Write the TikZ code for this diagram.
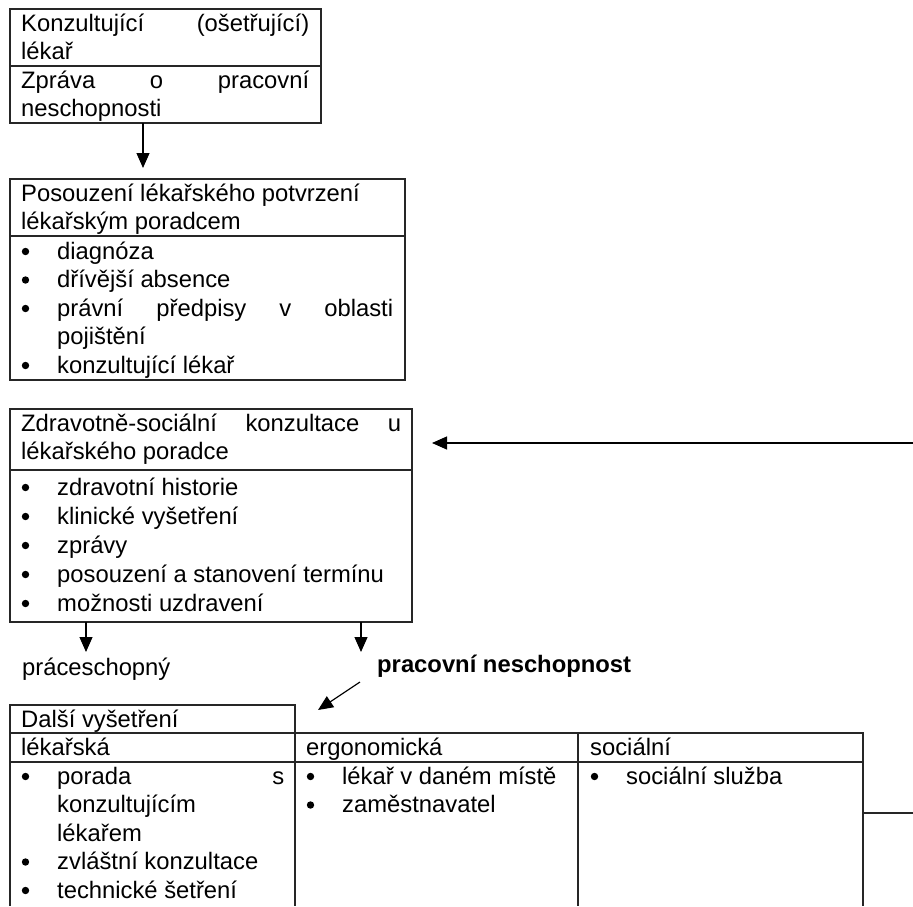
\documentclass[tikz,border=0pt]{standalone}
\usepackage{fontspec}
\setmainfont{Liberation Sans}
\usetikzlibrary{arrows.meta,calc}
\newcommand\fs{\fontsize{23.8pt}{28.5pt}\selectfont}
\newcommand\jb[2]{\makebox[#1][s]{#2}}
\newcommand\bl{\hspace*{36pt}}
\newcommand\ind{\hspace*{36pt}}
\newcommand\dotat[1]{\fill[black] ($(#1.base west)+(4.5,-7.5)$) circle (3.7pt);}
\begin{document}
\begin{tikzpicture}[x=1pt,y=-1pt,
  ln/.style={line width=1.2pt, draw=black!85},
  boxst/.style={ln, rectangle, anchor=north west, inner sep=0pt, outer sep=0pt},
  txt/.style={anchor=base west, inner sep=0pt, font=\fs},
  arr/.style={line width=1.2pt, draw=black, -{Triangle[length=15pt,width=13pt]}}]
\useasboundingbox (0,0) rectangle (913,906);
\coordinate (bot) at (0,906);

% ---- box 1
\node[boxst, minimum width=311pt, minimum height=114pt] (box1) at (10,9) {};
\draw[ln] ($(box1.north west)+(0,57)$) -- ($(box1.north east)+(0,57)$);
\node[txt] (t11) at (21,31) {\jb{288pt}{Konzultující (ošetřující)}};
\node[txt] (t12) at (21,59.5) {lékař};
\node[txt] (t13) at (21,88) {\jb{288pt}{Zpráva o pracovní}};
\node[txt] (t14) at (21,116.5) {neschopnosti};

% ---- box 2
\node[boxst, minimum width=395pt, minimum height=201pt] (box2) at (10,179) {};
\draw[ln] ($(box2.north west)+(0,57)$) -- ($(box2.north east)+(0,57)$);
\node[txt] (t21) at (21,201) {Posouzení lékařského potvrzení};
\node[txt] (t22) at (21,229.5) {lékařským poradcem};
\node[txt] (t23) at (21,259) {\bl diagnóza};
\node[txt] (t24) at (21,287.5) {\bl dřívější absence};
\node[txt] (t25) at (21,316) {\bl\jb{336pt}{právní předpisy v oblasti}};
\node[txt] (t26) at (21,344.5) {\ind pojištění};
\node[txt] (t27) at (21,373) {\bl konzultující lékař};
\dotat{t23}\dotat{t24}\dotat{t25}\dotat{t27}

% ---- box 3
\node[boxst, minimum width=402pt, minimum height=213pt] (box3) at (10,409) {};
\draw[ln] ($(box3.north west)+(0,61)$) -- ($(box3.north east)+(0,61)$);
\node[txt] (t31) at (21,431) {\jb{380pt}{Zdravotně-sociální konzultace u}};
\node[txt] (t32) at (21,459.5) {lékařského poradce};
\node[txt] (t33) at (21,495) {\bl zdravotní historie};
\node[txt] (t34) at (21,524) {\bl klinické vyšetření};
\node[txt] (t35) at (21,553) {\bl zprávy};
\node[txt] (t36) at (21,582) {\bl posouzení a stanovení termínu};
\node[txt] (t37) at (21,611) {\bl možnosti uzdravení};
\dotat{t33}\dotat{t34}\dotat{t35}\dotat{t36}\dotat{t37}

% ---- arrows between boxes
\coordinate (a1s) at (143,123);
\draw[arr, shorten >=11pt] (a1s) -- (a1s |- box2.north);
\coordinate (rin) at (913,443);
\draw[arr, shorten >=20pt] (rin) -- (rin -| box3.east);

% ---- outcomes
\node[txt] (fit) at (22,675) {práceschopný};
\node[txt, font=\fs\bfseries] (unfit) at (377,672) {pracovní neschopnost};
\coordinate (a3s) at (86,622);
\coordinate (a3e) at (86,652);
\draw[arr] (a3s) -- (a3e);
\coordinate (a4s) at (361,622);
\coordinate (a4e) at (361,652);
\draw[arr] (a4s) -- (a4e);
\coordinate (d1) at (360,682);
\coordinate (d2) at (318,710);
\draw[arr] (d1) -- (d2);

% ---- table
\node[boxst, minimum width=285pt, minimum height=28pt] (dalsi) at (10,705) {};
\node[boxst, minimum width=285pt, minimum height=29pt] (lek) at (10,733) {};
\node[boxst, minimum width=283pt, minimum height=29pt] (erg) at (295,733) {};
\node[boxst, minimum width=285pt, minimum height=29pt] (soc) at (578,733) {};
\draw[ln] (lek.south west) -- (lek.south west |- bot);
\draw[ln] (lek.south east) -- (lek.south east |- bot);
\draw[ln] (erg.south east) -- (erg.south east |- bot);
\draw[ln] (soc.south east) -- (soc.south east |- bot);
\coordinate (rout) at (913,813);
\draw[ln] (rout -| soc.east) -- (rout);

\node[txt] (h0) at (21,727) {Další vyšetření};
\node[txt] (h1) at (21,755) {lékařská};
\node[txt] (h2) at (306,755) {ergonomická};
\node[txt] (h3) at (590,755) {sociální};

\node[txt] (c11) at (21,784) {\bl\jb{227pt}{porada s}};
\node[txt] (c12) at (21,812.5) {\ind konzultujícím};
\node[txt] (c13) at (21,841) {\ind lékařem};
\node[txt] (c14) at (21,869.5) {\bl zvláštní konzultace};
\node[txt] (c15) at (21,898) {\bl technické šetření};
\dotat{c11}\dotat{c14}\dotat{c15}

\node[txt] (c21) at (306,784) {\bl lékař v daném místě};
\node[txt] (c22) at (306,812.5) {\bl zaměstnavatel};
\dotat{c21}\dotat{c22}

\node[txt] (c31) at (590,784) {\bl sociální služba};
\dotat{c31}
\end{tikzpicture}
\end{document}
